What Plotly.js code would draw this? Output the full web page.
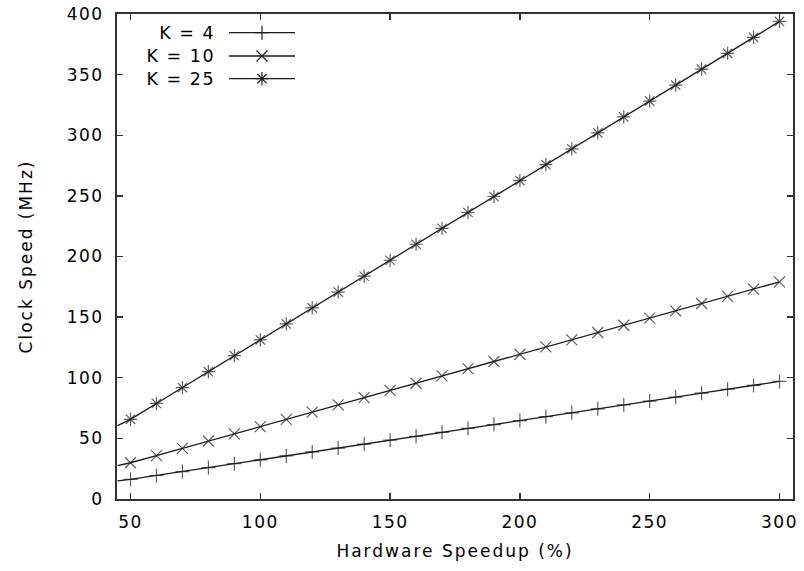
<!DOCTYPE html>
<html>
<head>
<meta charset="utf-8">
<script src="https://cdn.plot.ly/plotly-3.0.1.min.js"></script>
<style>
  html, body { margin: 0; padding: 0; background: #fff; }
  #chart { width: 804px; height: 571px; }
  #chart .xtick text, #chart .ytick text { letter-spacing: 1.5px; }
  #chart .g-xtitle text, #chart .g-ytitle text { letter-spacing: 2px; }
  #chart .annotation-text { letter-spacing: 1.5px; }
</style>
</head>
<body>
<div id="chart"></div>
<script>
// Hardware speedup (%) – first point is the left edge of the drawn line (no marker)
const speedup = [45, 50, 60, 70, 80, 90, 100, 110, 120, 130, 140, 150, 160, 170, 180, 190, 200, 210, 220, 230, 240, 250, 260, 270, 280, 290, 300];

const seriesNames = ["K = 4", "K = 10", "K = 25"];

// Clock speed (MHz)
const clockK4  = [15.0, 16.2, 19.4, 22.6, 25.9, 29.1, 32.3, 35.6, 38.8, 42.0, 45.3, 48.5, 51.7, 55.0, 58.2, 61.4, 64.7, 67.9, 71.1, 74.4, 77.6, 80.8, 84.0, 87.3, 90.5, 93.7, 97.0];
const clockK10 = [27.6, 29.9, 35.8, 41.8, 47.8, 53.7, 59.7, 65.7, 71.6, 77.6, 83.6, 89.6, 95.5, 101.5, 107.5, 113.4, 119.4, 125.4, 131.3, 137.3, 143.3, 149.2, 155.2, 161.2, 167.1, 173.1, 179.1];
const clockK25 = [60.5, 65.7, 78.8, 91.9, 105.0, 118.2, 131.3, 144.4, 157.6, 170.7, 183.8, 196.9, 210.1, 223.2, 236.3, 249.5, 262.6, 275.7, 288.8, 302.0, 315.1, 328.2, 341.4, 354.5, 367.6, 380.7, 393.9];

const xTicks = [50, 100, 150, 200, 250, 300];
const yTicks = [0, 50, 100, 150, 200, 250, 300, 350, 400];

const seriesValues = [clockK4, clockK10, clockK25];
const symbols = ["cross-thin-open", "x-thin-open", "asterisk-open"];
const markerSizes = [10, 11, 11];

const FONT = "DejaVu Sans, Liberation Sans, Arial, sans-serif";
const INK = "#1a1a1a";

const traces = [];
seriesValues.forEach((vals, i) => {
  traces.push({
    x: speedup,
    y: vals,
    type: "scatter",
    mode: "lines+markers",
    name: seriesNames[i],
    showlegend: false,
    line: { color: INK, width: 1.3 },
    marker: {
      symbol: symbols[i],
      size: speedup.map((s, j) => j === 0 ? 0 : markerSizes[i]),
      color: INK,
      line: { color: INK, width: 1.2 }
    },
    cliponaxis: true,
    hoverinfo: "x+y+name"
  });
});

// Key (gnuplot style: text on the left, sample on the right) drawn on an overlay axis pair
const keyRows = [0.9614, 0.9134, 0.8666];
const keyLineX = [0.1657, 0.2633];
const keyMarkX = 0.2145;
seriesNames.forEach((nm, i) => {
  traces.push({
    x: keyLineX, y: [keyRows[i], keyRows[i]],
    xaxis: "x2", yaxis: "y2",
    type: "scatter", mode: "lines",
    showlegend: false, hoverinfo: "skip",
    line: { color: INK, width: 1.3 }
  });
  traces.push({
    x: [keyMarkX], y: [keyRows[i]],
    xaxis: "x2", yaxis: "y2",
    type: "scatter", mode: "markers",
    showlegend: false, hoverinfo: "skip",
    marker: { symbol: symbols[i], size: markerSizes[i], color: INK, line: { color: INK, width: 1.2 } }
  });
});

const annotations = seriesNames.map((nm, i) => ({
  text: nm,
  xref: "paper", yref: "paper",
  x: 0.142, y: keyRows[i],
  xanchor: "right", yanchor: "middle",
  showarrow: false,
  font: { family: FONT, size: 17.5, color: "#000" }
}));

const axisCommon = {
  showgrid: false,
  zeroline: false,
  showline: true,
  linecolor: "#333",
  linewidth: 2,
  mirror: "ticks",
  ticks: "inside",
  ticklen: 6,
  tickwidth: 1.3,
  tickcolor: "#333",
  tickfont: { family: FONT, size: 17, color: "#000" },
  fixedrange: true
};

const layout = {
  width: 804,
  height: 571,
  margin: { l: 117, r: 11, t: 14, b: 72 },
  paper_bgcolor: "#fff",
  plot_bgcolor: "#fff",
  showlegend: false,
  font: { family: FONT, color: "#000" },
  xaxis: Object.assign({}, axisCommon, {
    range: [44.8, 305.2],
    tickmode: "array",
    tickvals: xTicks,
    ticktext: xTicks.map(String),
    ticklabelstandoff: 7,
    title: { text: "Hardware Speedup (%)", font: { family: FONT, size: 17, color: "#000" }, standoff: 14 }
  }),
  yaxis: Object.assign({}, axisCommon, {
    range: [0, 400],
    tickmode: "array",
    tickvals: yTicks,
    ticktext: yTicks.map(String),
    ticklabelstandoff: 8,
    title: { text: "Clock Speed (MHz)", font: { family: FONT, size: 17, color: "#000" }, standoff: 34 }
  }),
  xaxis2: { overlaying: "x", range: [0, 1], visible: false, fixedrange: true },
  yaxis2: { overlaying: "y", range: [0, 1], visible: false, fixedrange: true },
  annotations: annotations
};

Plotly.newPlot("chart", traces, layout, { displayModeBar: false, staticPlot: true });
</script>
</body>
</html>
